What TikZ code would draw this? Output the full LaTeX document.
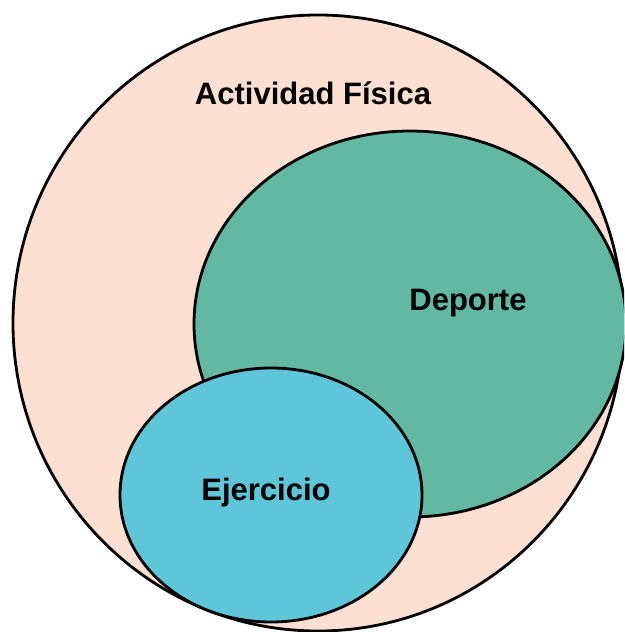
\documentclass[tikz,border=0pt]{standalone}
\usepackage{fontspec}
\setmainfont{Liberation Sans}
\definecolor{peach}{HTML}{FDE0D2}
\definecolor{sport}{HTML}{62B8A0}
\definecolor{exer}{HTML}{5FC6D9}
\begin{document}
\begin{tikzpicture}[x=1pt,y=-1pt,
  setshape/.style={draw=black,line width=2.8pt},
  lbl/.style={font=\fontsize{31}{36}\selectfont\bfseries,text=black,inner sep=0pt}]
\useasboundingbox (0,0) rectangle (624,632);
\begin{scope}
\clip (0,0) rectangle (624,632);
\draw[setshape,fill=peach] (318,323) ellipse [x radius=305, y radius=308];
\draw[setshape,fill=sport] (410,324) ellipse [x radius=216, y radius=193];
\draw[setshape,fill=exer] (271,495) ellipse [x radius=151, y radius=127];
\end{scope}
\node[lbl] (af) at (313,93) {Actividad Física};
\node[lbl] (dep) at (468,303) {Deporte};
\node[lbl] (ej) at (266,492) {Ejercicio};
\end{tikzpicture}
\end{document}
